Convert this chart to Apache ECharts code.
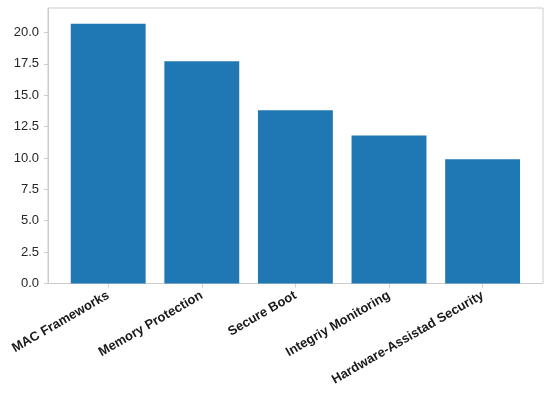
<!DOCTYPE html>
<html>
<head>
<meta charset="utf-8">
<script src="https://cdn.jsdelivr.net/npm/echarts@6/dist/echarts.min.js"></script>
<style>
  html, body { margin: 0; padding: 0; background: #fff; }
  #chart { width: 550px; height: 393px; }
</style>
</head>
<body>
<div id="chart"></div>
<script>
var categories = ['MAC Frameworks', 'Memory Protection', 'Secure Boot', 'Integriy Monitoring', 'Hardware-Assistad Security'];
var values = [20.7, 17.7, 13.8, 11.8, 9.9];
var yMax = 21.95;

var chart = echarts.init(document.getElementById('chart'));
var font = '"Liberation Sans", Arial, sans-serif';

var option = {
    animation: false,
    grid: [
        // outer frame + y axis
        { left: 48, right: 7, top: 8, bottom: 109.5, show: true, borderColor: '#cccccc', borderWidth: 1, backgroundColor: 'transparent' },
        // bars
        { left: 61.4, width: 468, top: 8, bottom: 109.5 }
    ],
    xAxis: [
        { gridIndex: 0, type: 'value', min: 0, max: 1, show: false },
        {
            gridIndex: 1,
            type: 'category',
            data: categories,
            axisLine: { show: false },
            axisTick: { show: true, alignWithLabel: true, length: 4, lineStyle: { color: '#cccccc' } },
            axisLabel: {
                rotate: 30,
                margin: 11,
                interval: 0,
                fontFamily: font,
                fontSize: 13,
                fontWeight: 'bold',
                color: '#1a1a1a'
            }
        }
    ],
    yAxis: [
        {
            gridIndex: 0,
            type: 'value',
            min: 0,
            max: yMax,
            interval: 2.5,
            splitLine: { show: false },
            axisLine: { show: true, lineStyle: { color: '#cccccc' } },
            axisTick: { show: true, length: 4, lineStyle: { color: '#cccccc' } },
            axisLabel: {
                margin: 9,
                fontFamily: font,
                fontSize: 13,
                color: '#262626',
                showMaxLabel: false,
                formatter: function (v) { return v.toFixed(1); }
            }
        },
        { gridIndex: 1, type: 'value', min: 0, max: yMax, show: false }
    ],
    series: [
        {
            type: 'bar',
            xAxisIndex: 1,
            yAxisIndex: 1,
            data: values,
            barWidth: '80%',
            itemStyle: { color: '#1f77b4' }
        }
    ]
};
chart.setOption(option);
</script>
</body>
</html>
